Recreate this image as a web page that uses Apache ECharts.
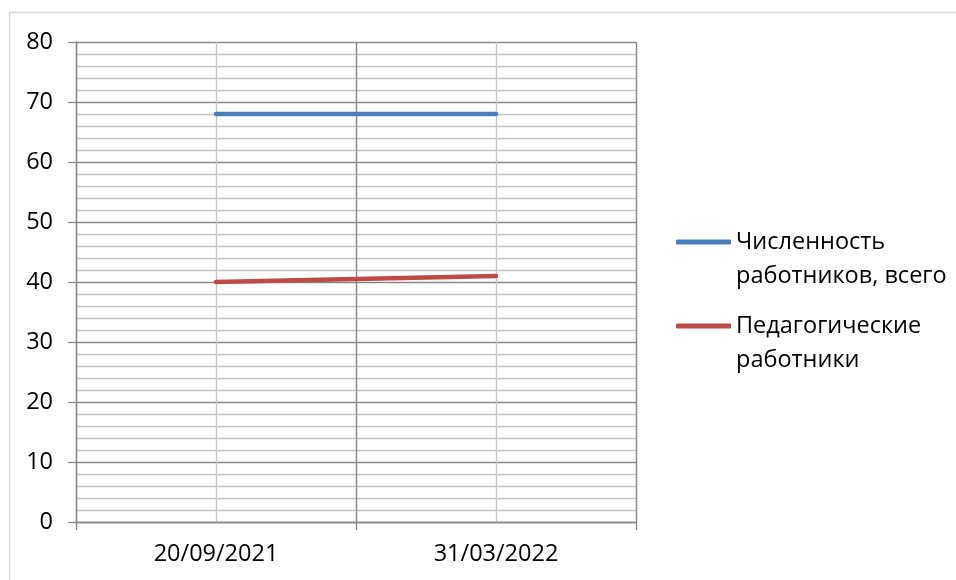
<!DOCTYPE html>
<html>
<head>
<meta charset="utf-8">
<script src="https://cdn.jsdelivr.net/npm/echarts@6/dist/echarts.min.js"></script>
<style>
html,body{margin:0;padding:0;background:#fff;}
#c{width:956px;height:580px;}
</style>
</head>
<body>
<div id="c"></div>
<script>
var categories = ['20/09/2021', '31/03/2022'];
var seriesNames = ['Численность\nработников, всего', 'Педагогические\nработники'];
var totalWorkers = [68, 68];
var teachers = [40, 41];
var yMin = 0, yMax = 80, yStep = 10;

var FONT = 'Open Sans';
var FS = 23.5;
var majorColor = '#888888';
var minorColor = '#c4c4c4';
var colors = ['#4a7ebb', '#be4b48'];

var chart = echarts.init(document.getElementById('c'));

function legendOf(i, top) {
  return {
    data: [seriesNames[i]],
    orient: 'vertical',
    left: 676,
    top: top,
    padding: 0,
    icon: 'roundRect',
    itemWidth: 55,
    itemHeight: 5,
    selectedMode: false,
    formatter: function (name) { return '\n' + name; },
    textStyle: {
      fontFamily: FONT,
      fontSize: FS,
      color: '#000',
      lineHeight: 34
    }
  };
}

chart.setOption({
  animation: false,
  color: colors,
  graphic: [{
    type: 'rect',
    left: 7, top: 10,
    shape: { width: 1000, height: 1000 },
    style: { fill: 'none', stroke: '#d9d9d9', lineWidth: 1.5 },
    silent: true
  }],
  grid: { left: 76, top: 42, width: 560, height: 480, containLabel: false },
  legend: [legendOf(0, 191), legendOf(1, 275)],
  xAxis: [{
    type: 'category',
    data: categories,
    boundaryGap: true,
    z: 5,
    axisLine: { lineStyle: { color: majorColor, width: 1.3 } },
    axisTick: { show: true, length: 8, inside: false, lineStyle: { color: majorColor, width: 1.3 } },
    axisLabel: { fontFamily: FONT, fontSize: FS, color: '#000', margin: 20 },
    splitLine: { show: true, lineStyle: { color: majorColor, width: 1.3 } }
  }, {
    type: 'value',
    min: 0, max: 4, interval: 1,
    position: 'top',
    z: 1,
    axisLine: { show: false },
    axisTick: { show: false },
    axisLabel: { show: false },
    splitLine: { show: true, lineStyle: { color: minorColor, width: 1.3 } }
  }],
  yAxis: {
    type: 'value',
    min: yMin, max: yMax, interval: yStep,
    axisLine: { show: true, lineStyle: { color: majorColor, width: 1.3 } },
    axisTick: { show: true, length: 8, lineStyle: { color: majorColor, width: 1.3 } },
    axisLabel: { fontFamily: FONT, fontSize: FS, color: '#000', margin: 23 },
    splitLine: { show: true, lineStyle: { color: majorColor, width: 1.3 } },
    minorTick: { show: false, splitNumber: 5 },
    minorSplitLine: { show: true, lineStyle: { color: minorColor, width: 1.3 } }
  },
  series: [{
    name: seriesNames[0],
    type: 'line',
    data: totalWorkers,
    symbol: 'none',
    lineStyle: { width: 4.5, cap: 'round', color: colors[0] },
    itemStyle: { color: colors[0] },
    z: 10
  }, {
    name: seriesNames[1],
    type: 'line',
    data: teachers,
    symbol: 'none',
    lineStyle: { width: 4.5, cap: 'round', color: colors[1] },
    itemStyle: { color: colors[1] },
    z: 10
  }]
});
</script>
</body>
</html>
